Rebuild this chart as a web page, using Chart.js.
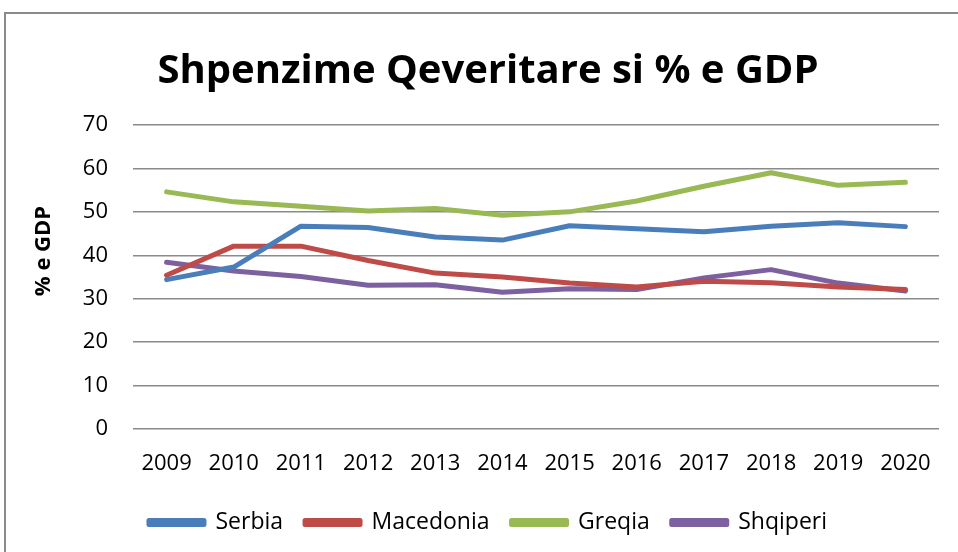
<!DOCTYPE html>
<html>
<head>
<meta charset="utf-8">
<script src="https://cdn.jsdelivr.net/npm/chart.js@4.4.1/dist/chart.umd.min.js"></script>
<style>
  html, body { margin: 0; padding: 0; background: #fff; }
  #wrap { position: relative; width: 958px; height: 552px; }
</style>
</head>
<body>
<div id="wrap"><canvas id="chart" width="958" height="552"></canvas></div>
<script>
const years = ['2009', '2010', '2011', '2012', '2013', '2014', '2015', '2016', '2017', '2018', '2019', '2020'];
const serbia = [34.4, 37.3, 46.7, 46.4, 44.2, 43.5, 46.8, 46.1, 45.4, 46.7, 47.5, 46.6];
const macedonia = [35.4, 42.1, 42.1, 38.8, 35.9, 35.0, 33.6, 32.7, 34.0, 33.7, 32.7, 32.1];
const greqia = [54.6, 52.3, 51.3, 50.2, 50.8, 49.2, 50.0, 52.5, 55.9, 59.0, 56.1, 56.8];
const shqiperi = [38.4, 36.4, 35.1, 33.1, 33.2, 31.5, 32.3, 32.1, 34.8, 36.7, 33.6, 31.8];
const yTicks = [0, 10, 20, 30, 40, 50, 60, 70];

const FONT = "'Open Sans', 'Liberation Sans', sans-serif";

// outer frame + rotated axis title
const framePlugin = {
  id: 'frame',
  beforeDraw(chart) {
    const ctx = chart.ctx;
    ctx.save();
    ctx.strokeStyle = '#8a8a8a';
    ctx.lineWidth = 2;
    ctx.strokeRect(5, 13, 1000, 600);
    ctx.restore();
  },
  afterDraw(chart) {
    const ctx = chart.ctx;
    ctx.save();
    ctx.translate(44, 251);
    ctx.rotate(-Math.PI / 2);
    ctx.font = 'bold 22px ' + FONT;
    ctx.fillStyle = '#000';
    ctx.textAlign = 'center';
    ctx.textBaseline = 'middle';
    ctx.fillText('% e GDP', 0, 0);
    ctx.restore();
  }
};

function line(label, data, color) {
  return {
    label: label,
    data: data,
    borderColor: color,
    backgroundColor: color,
    borderWidth: 5,
    pointRadius: 0,
    tension: 0,
    borderCapStyle: 'round',
    borderJoinStyle: 'round'
  };
}

new Chart(document.getElementById('chart'), {
  type: 'line',
  data: {
    labels: years,
    datasets: [
      line('Serbia', serbia, '#4a7ebb'),
      line('Macedonia', macedonia, '#be4b48'),
      line('Greqia', greqia, '#98b954'),
      line('Shqiperi', shqiperi, '#7d60a0')
    ]
  },
  options: {
    responsive: false,
    animation: false,
    layout: { padding: { left: 37, right: 19, top: 13, bottom: 8 } },
    scales: {
      x: {
        offset: true,
        grid: { display: false },
        border: { display: false },
        ticks: { color: '#000', font: { family: FONT, size: 22 }, padding: 14, maxRotation: 0 },
        afterFit(s) { s.height = 60; }
      },
      y: {
        min: 0,
        max: 70,
        afterBuildTicks(s) { s.ticks = yTicks.map(v => ({ value: v })); },
        grid: { color: '#8a8a8a', lineWidth: 1.5, drawTicks: false },
        border: { display: false },
        ticks: { color: '#000', font: { family: FONT, size: 22 }, padding: 25 },
        afterFit(s) { s.width = 96; }
      }
    },
    plugins: {
      title: {
        display: true,
        text: 'Shpenzime Qeveritare si % e GDP',
        color: '#000',
        font: { family: FONT, size: 40, weight: 'bold' },
        padding: { top: 35, bottom: 29 }
      },
      legend: {
        position: 'bottom',
        labels: {
          color: '#000',
          font: { family: FONT, size: 23 },
          boxWidth: 55,
          boxHeight: 4,
          padding: 22
        }
      },
      tooltip: { enabled: false }
    }
  },
  plugins: [framePlugin]
});
</script>
</body>
</html>
